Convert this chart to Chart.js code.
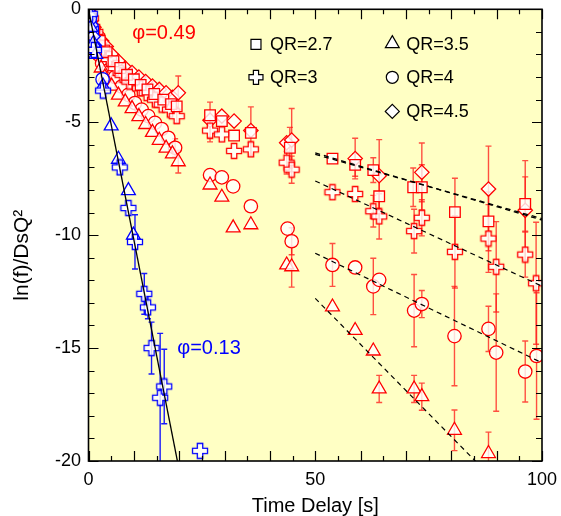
<!DOCTYPE html>
<html><head><meta charset="utf-8">
<script src="https://cdn.jsdelivr.net/npm/chart.js@4.4.0/dist/chart.umd.min.js"></script>
<style>html,body{margin:0;padding:0;background:#fff;}</style>
</head><body>
<canvas id="c" width="561" height="516" style="display:block;width:561px;height:516px"></canvas>
<script>
// ---------- axis ----------
const xMin = 0, xMax = 100, xStep = 50;
const yMin = -20, yMax = 0, yStep = 5;
const xTitle = 'Time Delay [s]';
const yTitle = 'ln(f)/DsQ²';

// ---------- φ = 0.49 (red) ----------
const redSquareX = [0.4,1.3,2.5,4.0,5.5,7.0,8.5,10.0,11.5,13.0,14.5,16.5,18.2,19.45,26.8,29.4,32.1,35.8,44.4,53.8,58.8,62.8,64.1,71.6,73.5,80.8,88.2,96.3];
const redSquareY = [-0.3,-0.9,-1.4,-1.9,-2.3,-2.6,-2.9,-3.1,-3.35,-3.55,-3.75,-4.0,-4.2,-4.3,-4.69,-4.95,-5.59,-5.47,-6.13,-6.61,-6.89,-7.12,-8.28,-7.88,-7.88,-8.98,-9.39,-8.62];
const redSquareErr = [0,0,0,0,0,0,0,0,0,0,0,0,0,0,0,0,0,0,0.9,0,0.5,0.55,1.0,0.85,1.0,1.5,1.3,1.2];

const redCrossX = [0.5,1.5,3.0,4.5,6.0,7.5,9.0,11.36,12.83,14.66,16.14,17.97,19.45,26.8,29.4,32.1,35.8,43.7,44.8,53.8,58.8,62.8,64.1,71.8,73.5,80.8,88.2,89.9,96.3,98.7];
const redCrossY = [-0.4,-1.0,-1.7,-2.2,-2.6,-2.9,-3.2,-3.5,-3.71,-4.0,-4.22,-4.44,-4.73,-5.37,-5.54,-6.27,-6.2,-6.79,-7.1,-8.1,-8.18,-8.94,-9.17,-9.82,-9.23,-10.74,-10.15,-11.4,-10.86,-12.13];
const redCrossErr = [0,0,0,0,0,0,0,0,0,0,0,0,0.3,0.5,0,0,0.3,0.5,0.6,0,0,0.7,1.0,0.97,0.8,1.6,1.5,2.0,1.0,2.7];

const redTriangleX = [0.5,1.2,2.0,2.8,3.6,5.1,6.6,8.1,9.6,11.1,12.6,14.1,15.6,17.1,18.5,19.8,26.8,29.4,31.9,35.8,43.7,44.8,53.8,58.8,62.8,64.1,71.8,73.5,80.7,88.2];
const redTriangleY = [-0.6,-1.3,-2.0,-2.6,-3.0,-3.4,-3.8,-4.1,-4.4,-4.75,-5.1,-5.45,-5.8,-6.15,-6.4,-6.75,-7.78,-8.32,-9.68,-9.54,-11.32,-11.4,-13.18,-14.22,-15.13,-16.81,-16.81,-17.15,-18.64,-19.67];
const redTriangleErr = [0,0,0,0,0,0,0,0,0,0,0,0,0,0,0,0.5,0,0,0,0,0,0.9,0,0,0,0.6,0.6,0.6,0.9,0.95];

const redCircleX = [0.3,0.8,1.4,2.2,3.0,4.4,5.84,7.32,8.78,10.25,11.73,13.19,14.66,16.14,17.6,19.1,26.8,29.4,31.9,35.8,43.9,44.8,53.8,58.8,62.8,64.1,71.8,73.5,80.7,88.2,89.9,96.3,98.8];
const redCircleY = [-0.3,-0.8,-1.5,-2.0,-2.4,-2.7,-3.0,-3.42,-3.79,-4.15,-4.44,-4.73,-5.03,-5.3,-5.69,-6.13,-7.34,-7.44,-7.84,-8.72,-9.71,-10.27,-11.32,-11.43,-12.27,-11.98,-13.34,-13.05,-14.47,-14.15,-15.2,-16.04,-15.35];
const redCircleErr = [0,0,0,0,0,0,0,0,0,0,0,0,0,0,0,0.4,0,0,0,0,0,0.6,0.95,0,1.25,0,1.6,0.6,2.2,1.0,2.6,1.35,2.8];

const redDiamondX = [0.2,0.6,1.2,2.0,2.9,3.9,5.1,6.6,8.1,9.6,11.1,12.6,14.1,15.6,17.1,18.5,19.8,26.8,29.4,32.1,35.8,43.7,44.8,58.8,64.1,73.5,88.2,96.3];
const redDiamondY = [-0.2,-0.5,-0.8,-1.1,-1.4,-1.65,-2.0,-2.3,-2.6,-2.8,-3.0,-3.2,-3.4,-3.55,-3.7,-3.9,-3.7,-4.91,-4.73,-4.95,-5.37,-5.91,-5.79,-6.61,-7.37,-7.22,-7.96,-8.9];
const redDiamondErr = [0,0,0,0,0,0,0,0,0,0,0,0,0,0,0,0,0.75,0.8,0,0,1.05,0,1.4,0.9,1.6,1.3,1.9,2.2];

// ---------- φ = 0.13 (blue) ----------
const blueSquareX = [0.2,0.5,1.0];
const blueSquareY = [-0.1,-0.5,-1.0];
const blueDiamondX = [0.3,0.6,1.0,1.3];
const blueDiamondY = [-0.3,-0.7,-1.2,-1.6];
const blueCircleX = [0.3,1.2,3.1];
const blueCircleY = [-0.4,-1.7,-3.1];
const blueTriangleX = [0.5,1.1,1.6,3.2,5.0,6.6,8.8,9.9];
const blueTriangleY = [-0.8,-1.5,-2.0,-3.4,-5.16,-6.64,-8.03,-10.0];
const blueCrossX = [0.3,1.2,3.2,6.9,8.8,10.25,12.3,13.1,13.9,15.8,16.7,24.6];
const blueCrossY = [-0.2,-1.8,-3.6,-7.0,-8.8,-10.3,-12.6,-13.2,-15.0,-17.2,-16.7,-19.55];
const blueCrossErr = [0,0,0,0.3,0,1.2,0.9,0.5,1.15,2.85,1.65,0];

// ---------- fit lines ----------
const blueFitX = [0,19.6], blueFitY = [0,-20];
const fitX = [50,100];
const fitSquareY = [-6.42,-9.27];
const fitDiamondY = [-6.36,-9.33];
const fitCrossY = [-7.6,-12.26];
const fitCircleY = [-10.8,-15.65];
const fitTriangleY = [-12.8,-23.0];

// ---------- legend / annotations ----------
const legendLabels = ['QR=2.7','QR=3','QR=3.5','QR=4','QR=4.5'];
const legendStyles = ['rect','plus','triangle','circle','rectRot'];
const legendX = [36.93,36.93,66.99,66.99,66.99];
const legendY = [-1.55,-3.01,-1.52,-3.01,-4.52];
const phiLabels = ['φ=0.49','φ=0.13'];
const phiX = [16.65,26.57];
const phiY = [-1.08,-15.04];

const RED = '#FF0000', BLUE = '#0000FF';
const FILL = 'rgba(255,255,255,0.8)';
const FONT = '"Liberation Sans", Arial, Helvetica, sans-serif';

function plusPath(g, cx, cy, h, a) {
  g.beginPath();
  g.moveTo(cx-a,cy-h); g.lineTo(cx+a,cy-h); g.lineTo(cx+a,cy-a); g.lineTo(cx+h,cy-a);
  g.lineTo(cx+h,cy+a); g.lineTo(cx+a,cy+a); g.lineTo(cx+a,cy+h); g.lineTo(cx-a,cy+h);
  g.lineTo(cx-a,cy+a); g.lineTo(cx-h,cy+a); g.lineTo(cx-h,cy-a); g.lineTo(cx-a,cy-a);
  g.closePath();
}
function plusCanvas(color) {
  const c = document.createElement('canvas');
  c.width = 18; c.height = 18;
  const g = c.getContext('2d');
  plusPath(g, 9, 9, 7.5, 2.7);
  g.fillStyle = FILL; g.fill();
  g.strokeStyle = color; g.lineWidth = 1.3; g.stroke();
  return c;
}
const plusRed = plusCanvas(RED), plusBlue = plusCanvas(BLUE);

const radii = {rect:7.5, triangle:8, circle:6.7, rectRot:7.2};
function pts(xs, ys){ return xs.map((x,i)=>({x:x, y:ys[i]})); }
function markers(xs, ys, errs, style, color){
  const isPlus = style === 'plus';
  return {
    type:'scatter', order:2,
    data: pts(xs, ys),
    errs: errs || null, errColor: color === RED ? 'rgba(255,20,20,0.75)' : 'rgba(0,0,255,0.9)',
    pointStyle: isPlus ? (color === RED ? plusRed : plusBlue) : style,
    pointRadius: isPlus ? 8 : radii[style],
    pointHoverRadius: isPlus ? 8 : radii[style],
    borderColor: color, backgroundColor: FILL, pointBorderWidth: 1.3, borderWidth: 1.3
  };
}
function fitLine(xs, ys, dash, width){
  return {type:'line', order:0, data: pts(xs, ys), borderColor:'#000', borderWidth: width,
    borderDash: dash, pointRadius:0, fill:false, tension:0};
}

const datasets = [
  fitLine(blueFitX, blueFitY, [], 1.3),
  fitLine(fitX, fitSquareY, [5,4], 1.3),
  fitLine(fitX, fitDiamondY, [5,4], 1.3),
  fitLine(fitX, fitCrossY, [5,4], 1.2),
  fitLine(fitX, fitCircleY, [5,4], 1.2),
  fitLine(fitX, fitTriangleY, [5,4], 1.2),
  markers(blueCrossX, blueCrossY, blueCrossErr, 'plus', BLUE),
  markers(blueTriangleX, blueTriangleY, null, 'triangle', BLUE),
  markers(blueCircleX, blueCircleY, null, 'circle', BLUE),
  markers(blueDiamondX, blueDiamondY, null, 'rectRot', BLUE),
  markers(blueSquareX, blueSquareY, null, 'rect', BLUE),
  markers(redSquareX, redSquareY, redSquareErr, 'rect', RED),
  markers(redCrossX, redCrossY, redCrossErr, 'plus', RED),
  markers(redTriangleX, redTriangleY, redTriangleErr, 'triangle', RED),
  markers(redCircleX, redCircleY, redCircleErr, 'circle', RED),
  markers(redDiamondX, redDiamondY, redDiamondErr, 'rectRot', RED)
];

function drawShape(g, style, x, y) {
  g.beginPath();
  if (style === 'rect') { g.rect(x-5, y-5, 10, 10); }
  else if (style === 'circle') { g.arc(x, y, 6, 0, Math.PI*2); }
  else if (style === 'triangle') { const r=8; g.moveTo(x, y-r); g.lineTo(x+r*0.866, y+r*0.5); g.lineTo(x-r*0.866, y+r*0.5); g.closePath(); }
  else if (style === 'rectRot') { const r=7; g.moveTo(x-r,y); g.lineTo(x,y-r); g.lineTo(x+r,y); g.lineTo(x,y+r); g.closePath(); }
  else if (style === 'plus') { plusPath(g, x, y, 7, 2.6); }
  g.fillStyle = '#fff'; g.fill();
  g.strokeStyle = '#000'; g.lineWidth = 1.2; g.stroke();
}

const plotPlugin = {
  id:'plotDeco',
  beforeDraw(chart){
    const a = chart.chartArea, g = chart.ctx;
    g.save(); g.fillStyle = 'rgb(255,255,196)'; g.fillRect(a.left, a.top, a.right-a.left, a.bottom-a.top); g.restore();
  },
  beforeDatasetsDraw(chart){
    const a = chart.chartArea, g = chart.ctx, xs = chart.scales.x, ys = chart.scales.y;
    g.save();
    g.beginPath(); g.rect(a.left, a.top, a.right-a.left, a.bottom-a.top); g.clip();
    chart.data.datasets.forEach(ds => {
      if (!ds.errs) return;
      g.strokeStyle = ds.errColor; g.lineWidth = 1.4;
      ds.data.forEach((p,i) => {
        const e = ds.errs[i]; if (!e) return;
        const px = xs.getPixelForValue(p.x);
        const y1 = ys.getPixelForValue(p.y + e), y2 = ys.getPixelForValue(p.y - e);
        g.beginPath();
        g.moveTo(px, y1); g.lineTo(px, y2);
        g.moveTo(px-3, y1); g.lineTo(px+3, y1);
        g.moveTo(px-3, y2); g.lineTo(px+3, y2);
        g.stroke();
      });
    });
    g.restore();
  },
  afterDatasetsDraw(chart){
    const a = chart.chartArea, g = chart.ctx, xs = chart.scales.x, ys = chart.scales.y;
    g.save();
    g.strokeStyle = '#000'; g.lineWidth = 1.2;
    g.beginPath();
    for (let v = xMin; v <= xMax; v += 5) {
      const px = Math.round(xs.getPixelForValue(v)) + 0.5;
      const len = (v % 10 === 0) ? 10 : 5;
      g.moveTo(px, a.bottom); g.lineTo(px, a.bottom - len);
      g.moveTo(px, a.top); g.lineTo(px, a.top + len);
    }
    for (let v = yMin; v <= yMax; v += 1) {
      const py = Math.round(ys.getPixelForValue(v)) + 0.5;
      const len = (v % 5 === 0) ? 10 : 6;
      g.moveTo(a.left, py); g.lineTo(a.left + len, py);
      g.moveTo(a.right, py); g.lineTo(a.right - len, py);
    }
    g.stroke();
    g.lineWidth = 1.6;
    g.strokeRect(a.left, a.top, a.right-a.left, a.bottom-a.top);
    // legend
    g.font = '18px ' + FONT; g.textBaseline = 'middle'; g.textAlign = 'left'; g.fillStyle = '#000';
    legendLabels.forEach((t,i) => {
      const px = xs.getPixelForValue(legendX[i]), py = ys.getPixelForValue(legendY[i]);
      drawShape(g, legendStyles[i], px, py);
      g.fillStyle = '#000';
      g.fillText(t, px + 14, py + 1);
    });
    // phi labels
    g.font = '20px ' + FONT; g.textAlign = 'center';
    phiLabels.forEach((t,i) => {
      g.fillStyle = i === 0 ? RED : BLUE;
      g.fillText(t, xs.getPixelForValue(phiX[i]), ys.getPixelForValue(phiY[i]));
    });
    g.restore();
  },
  afterDraw(chart){
    // y-axis title, rotated
    const g = chart.ctx, a = chart.chartArea;
    g.save();
    g.translate(22, (a.top + a.bottom) / 2 + 20);
    g.rotate(-Math.PI / 2);
    g.font = '21px ' + FONT; g.fillStyle = '#000'; g.textAlign = 'center'; g.textBaseline = 'middle';
    g.fillText(yTitle, 0, 0);
    g.restore();
  }
};

new Chart(document.getElementById('c'), {
  data: { datasets },
  options: {
    responsive:false, animation:false, devicePixelRatio:1,
    layout:{ padding:{left:0, right:19, top:5.5, bottom:0} },
    plugins:{ legend:{display:false}, tooltip:{enabled:false} },
    scales:{
      x:{ type:'linear', position:'bottom', min:xMin, max:xMax,
        ticks:{ stepSize:xStep, padding:8, color:'#000', maxRotation:0, font:{family:FONT, size:18} },
        grid:{ display:false, drawTicks:false }, border:{display:false},
        title:{ display:true, text:xTitle, color:'#000', padding:0, font:{family:FONT, size:20, lineHeight:1} },
        afterFit(s){ s.height = 55; s.paddingLeft = 0; s.paddingRight = 0; } },
      y:{ type:'linear', min:yMin, max:yMax,
        ticks:{ stepSize:yStep, padding:7.5, color:'#000', font:{family:FONT, size:18} },
        grid:{ display:false, drawTicks:false }, border:{display:false},
        title:{ display:false, text:yTitle },
        afterFit(s){ s.width = 88.5; s.paddingTop = 0; s.paddingBottom = 0; } }
    }
  },
  plugins:[plotPlugin]
});
</script>
</body></html>
